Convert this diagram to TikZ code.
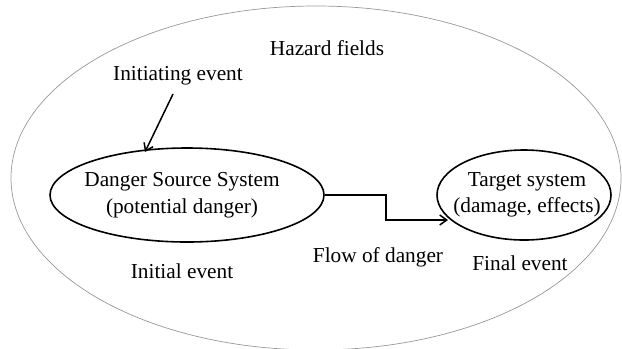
\documentclass[tikz,border=0pt]{standalone}
\usepackage{fontspec}
\setmainfont{Liberation Serif}
\usetikzlibrary{shapes.geometric,arrows.meta}
\tikzset{
  lbl/.style={font=\fontsize{21.3bp}{26.5bp}\selectfont, inner sep=0pt, align=center},
  sysell/.style={ellipse, draw=black, line width=1.6bp, inner sep=0pt},
  flow/.style={draw=black, line width=1.5bp, -{Straight Barb[length=7bp,width=10bp,line width=1.5bp]}}
}
\begin{document}
\begin{tikzpicture}[x=1bp,y=-1bp]
\useasboundingbox (0,0) rectangle (622,348);
\clip (0,0) rectangle (622,348);
\fill[white] (0,0) rectangle (622,348);
% outer hazard field
\draw[gray!80, line width=0.7bp] (316,178) ellipse [x radius=305bp, y radius=172bp];
% systems
\node[sysell, minimum width=274bp, minimum height=94bp] (ds) at (187,195) {};
\node[lbl] (dstxt) at (182,195) {Danger Source System\\(potential danger)};
\node[sysell, minimum width=174bp, minimum height=90bp] (ts) at (524,195) {};
\node[lbl] (tstxt) at (527,195) {Target system\\(damage, effects)};
% labels
\node[lbl] (hf) at (327,48) {Hazard fields};
\node[lbl] (ie) at (178,76) {Initiating event};
\node[lbl] (inev) at (182,271) {Initial event};
\node[lbl] (fd) at (378,257) {Flow of danger};
\node[lbl] (fe) at (520,263) {Final event};
% connectors
\coordinate (ia) at (173,94);
\coordinate (ib) at (145,152);
\draw[flow] (ia) -- (ib);
\coordinate (bend) at (386,220);
\coordinate (tin) at (448,220);
\draw[flow] (ds.east) -| (bend) -- (tin);
\end{tikzpicture}
\end{document}
